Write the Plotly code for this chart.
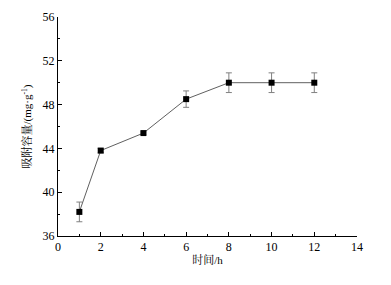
import plotly.graph_objects as go

time_h = [1, 2, 4, 6, 8, 10, 12]
capacity = [38.2, 43.8, 45.4, 48.5, 50.0, 50.0, 50.0]
err = [0.9, 0.2, 0.1, 0.75, 0.9, 0.9, 0.9]

x_ticks = [0, 2, 4, 6, 8, 10, 12, 14]
y_ticks = [36, 40, 44, 48, 52, 56]

fig = go.Figure()
fig.add_trace(go.Scatter(
    x=time_h, y=capacity,
    mode="lines+markers",
    line=dict(color="#606060", width=1),
    marker=dict(symbol="square", size=6, color="black", line=dict(color="black", width=0)),
    error_y=dict(type="data", array=err, visible=True, color="#808080", thickness=1, width=3),
    showlegend=False,
))

font_fam = "Liberation Serif, Noto Serif CJK SC, Noto Sans CJK SC, serif"
fig.update_layout(
    width=383, height=277,
    margin=dict(l=50, r=34, t=9, b=49),
    paper_bgcolor="white", plot_bgcolor="white",
    font=dict(family=font_fam, size=12, color="black"),
    xaxis=dict(
        range=[0, 14], tickvals=x_ticks, ticktext=[str(v) for v in x_ticks],
        showline=True, linecolor="black", linewidth=1, mirror=False,
        ticks="inside", ticklen=4, tickcolor="black",
        minor=dict(dtick=1, ticks="inside", ticklen=2, tickcolor="black"),
        showgrid=False, zeroline=False, automargin=False,
        title=dict(text="时间/h", font=dict(size=11), standoff=2),
    ),
    yaxis=dict(
        range=[36, 56], tickvals=y_ticks, ticktext=[str(v) for v in y_ticks],
        showline=True, linecolor="black", linewidth=1, mirror=False,
        ticks="inside", ticklen=4, tickcolor="black",
        minor=dict(dtick=2, ticks="inside", ticklen=2, tickcolor="black"),
        showgrid=False, zeroline=False, automargin=False,
        title=dict(text="吸附容量/(mg·g<sup>-1</sup>)", font=dict(size=11), standoff=8),
    ),
)
fig.write_html("out.html")
